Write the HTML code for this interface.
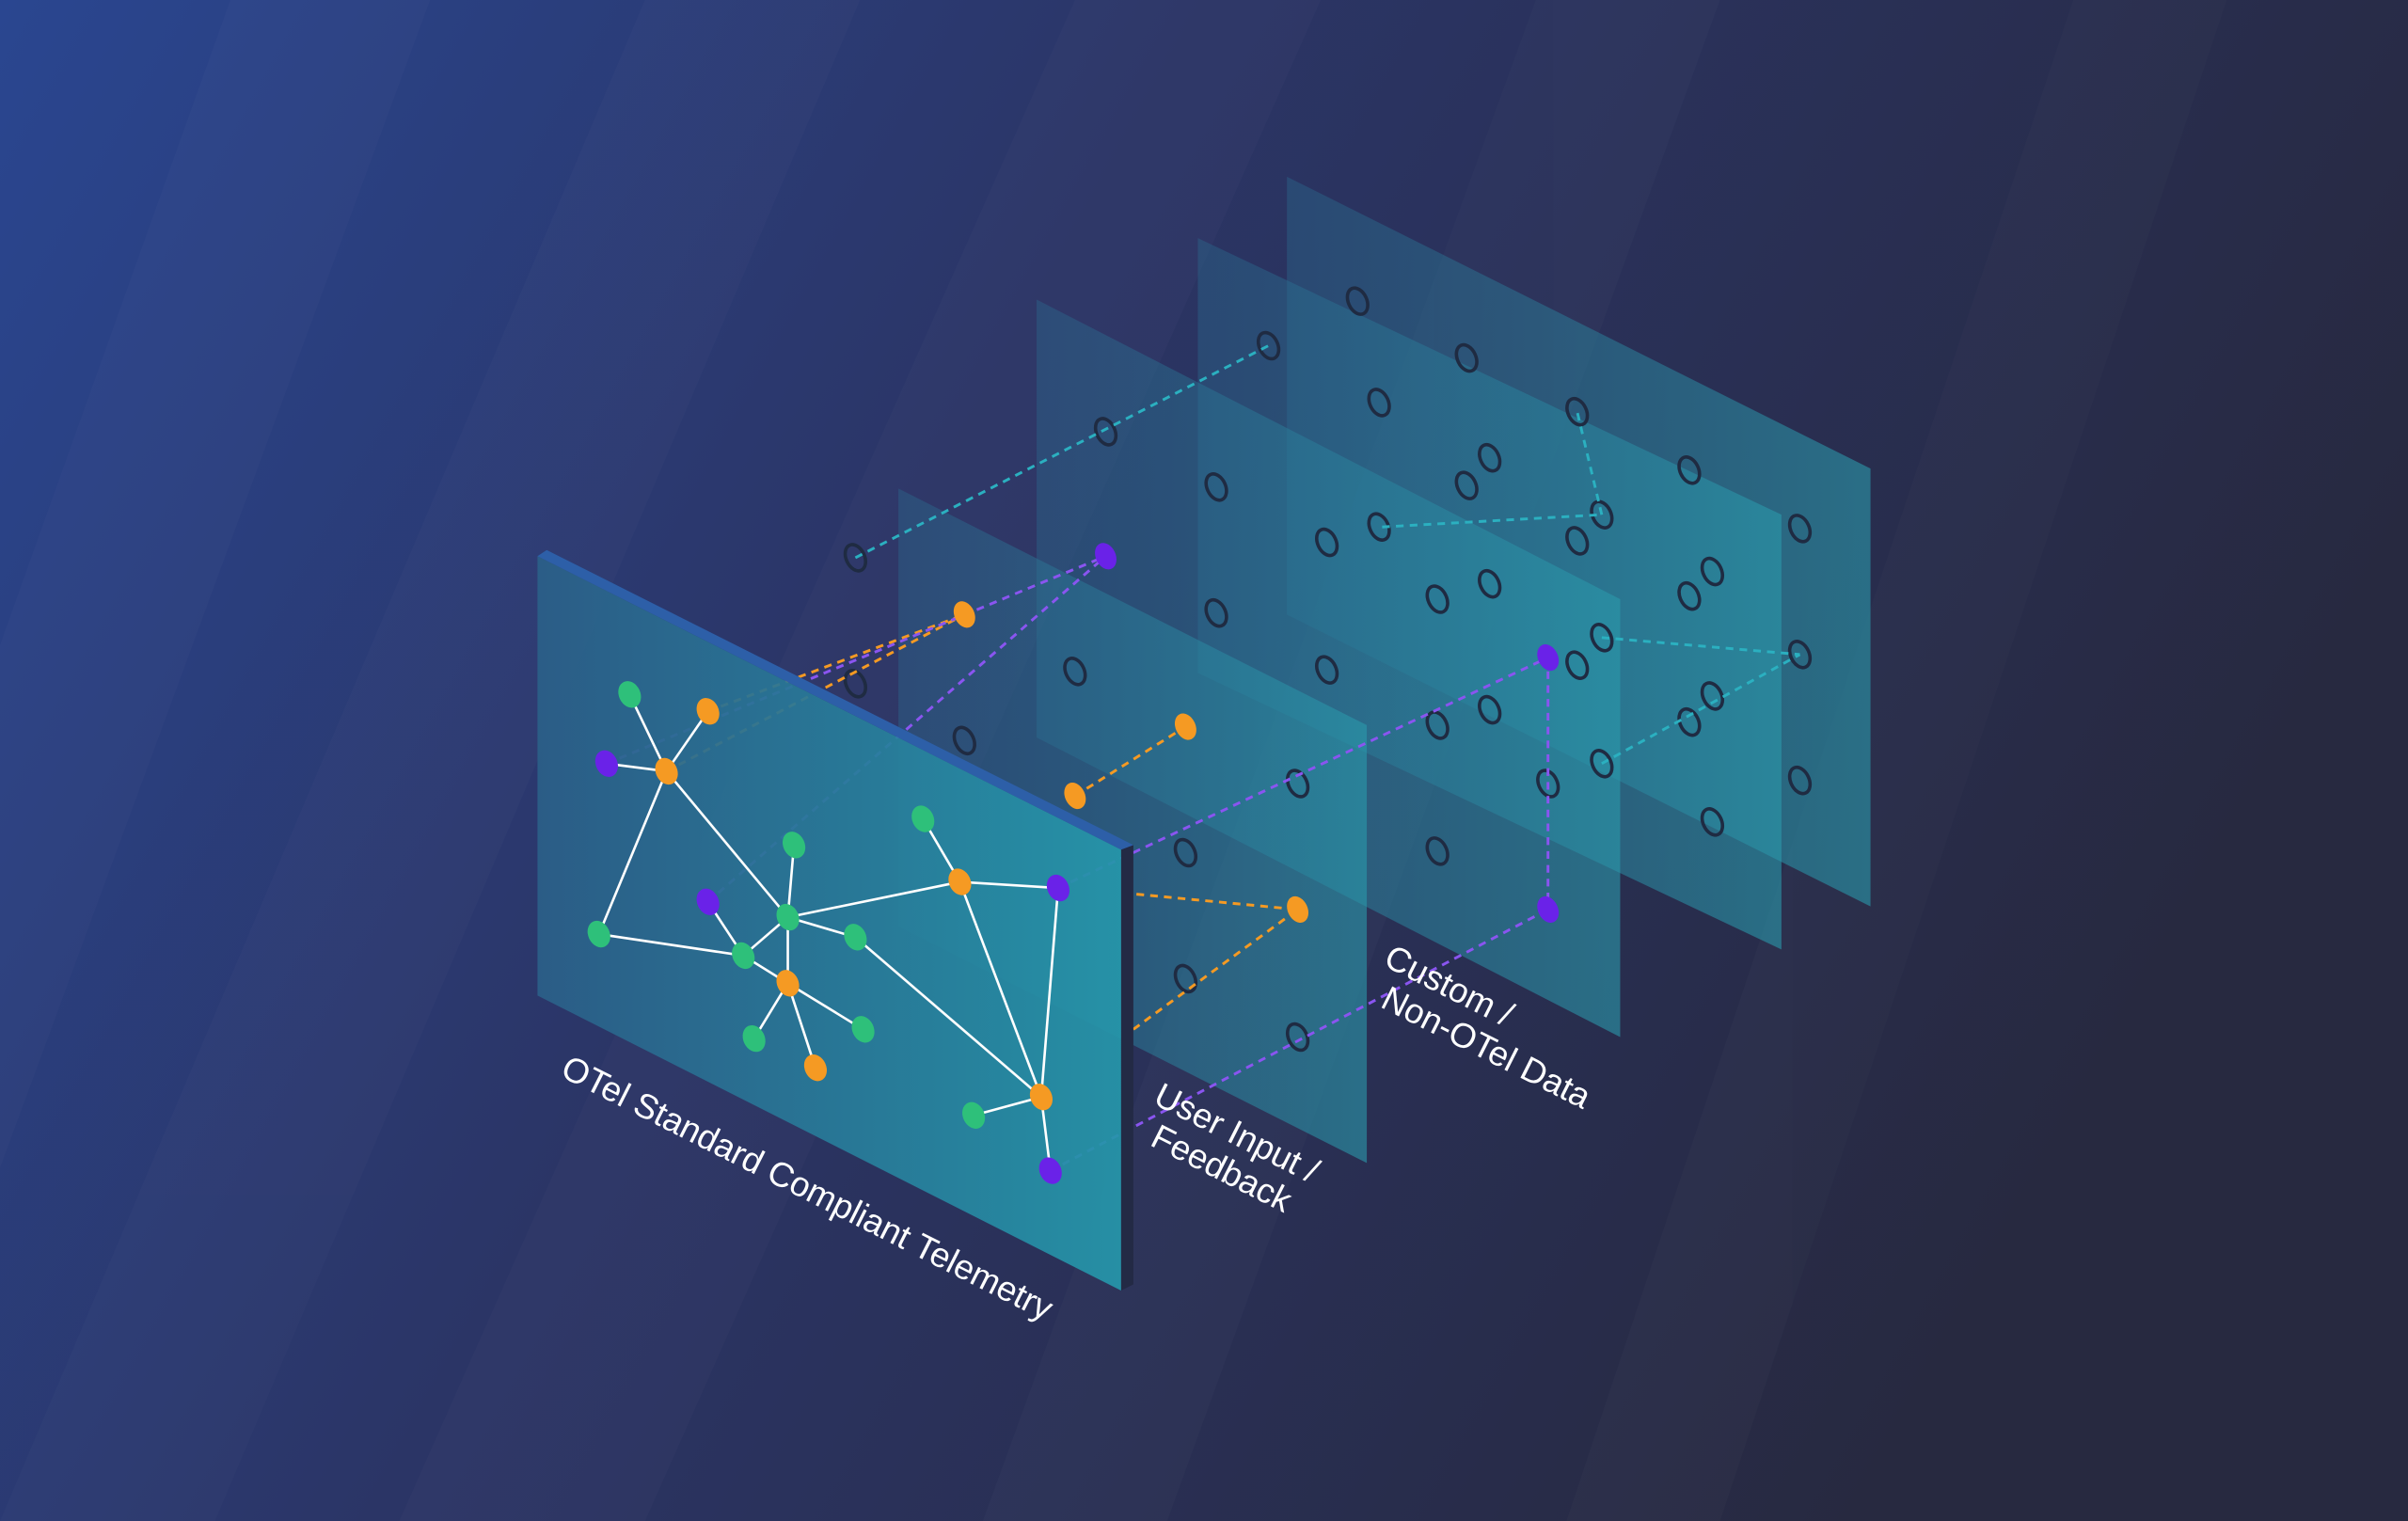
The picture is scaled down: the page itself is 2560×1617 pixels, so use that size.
<!DOCTYPE html>
<html><head><meta charset="utf-8"><style>
html,body{margin:0;padding:0;width:2560px;height:1617px;overflow:hidden;background:#282b48}
svg{display:block}
text{font-family:"Liberation Sans",sans-serif;fill:#fff}
</style></head><body>
<svg width="2560" height="1617" viewBox="0 0 1568 990" preserveAspectRatio="none" xmlns="http://www.w3.org/2000/svg">
<defs>
<linearGradient id="bg" x1="0" y1="0" x2="1" y2="0.35">
<stop offset="0" stop-color="#2a4690"/><stop offset="0.45" stop-color="#2b3566"/><stop offset="1" stop-color="#272940"/>
</linearGradient>
<linearGradient id="fp" x1="0" y1="0" x2="1" y2="0">
<stop offset="0" stop-color="#2b5f88"/><stop offset="1" stop-color="#2596aa"/>
</linearGradient>
<linearGradient id="bp" x1="0" y1="0" x2="1" y2="0">
<stop offset="0" stop-color="#2a6a8e" stop-opacity="0.4"/><stop offset="1" stop-color="#2a9aac" stop-opacity="0.6"/>
</linearGradient>
</defs>
<rect width="1568" height="990" fill="url(#bg)"/>
<g fill="#ffffff" opacity="0.015">
<polygon points="150,0 280,0 0,760 0,420"/>
<polygon points="420,0 560,0 140,990 0,990"/>
<polygon points="700,0 860,0 420,990 260,990"/>
<polygon points="1000,0 1120,0 760,990 640,990"/>
<polygon points="1350,0 1450,0 1120,990 1020,990"/>
</g>
<polygon points="838,115 1218,305 1218,590 838,400" fill="url(#bp)"/>
<polygon points="780,155 1160,335 1160,618 780,438" fill="url(#bp)"/>
<polygon points="675,195 1055,390 1055,675 675,480" fill="url(#bp)"/>
<polygon points="585,318 890,472 890,757 585,603" fill="url(#bp)"/>
<g fill="none" stroke="#1f2b42" stroke-width="2.2">
<ellipse cx="557" cy="363" rx="6" ry="9" transform="rotate(-25 557 363)"/>
<ellipse cx="720" cy="281" rx="6" ry="9" transform="rotate(-25 720 281)"/>
<ellipse cx="826" cy="225" rx="6" ry="9" transform="rotate(-25 826 225)"/>
<ellipse cx="884" cy="196" rx="6" ry="9" transform="rotate(-25 884 196)"/>
<ellipse cx="557" cy="445" rx="6" ry="9" transform="rotate(-25 557 445)"/>
<ellipse cx="628" cy="482" rx="6" ry="9" transform="rotate(-25 628 482)"/>
<ellipse cx="700" cy="437" rx="6" ry="9" transform="rotate(-25 700 437)"/>
<ellipse cx="792" cy="317" rx="6" ry="9" transform="rotate(-25 792 317)"/>
<ellipse cx="864" cy="353" rx="6" ry="9" transform="rotate(-25 864 353)"/>
<ellipse cx="792" cy="399" rx="6" ry="9" transform="rotate(-25 792 399)"/>
<ellipse cx="864" cy="436" rx="6" ry="9" transform="rotate(-25 864 436)"/>
<ellipse cx="898" cy="262" rx="6" ry="9" transform="rotate(-25 898 262)"/>
<ellipse cx="955" cy="233" rx="6" ry="9" transform="rotate(-25 955 233)"/>
<ellipse cx="970" cy="298" rx="6" ry="9" transform="rotate(-25 970 298)"/>
<ellipse cx="955" cy="316" rx="6" ry="9" transform="rotate(-25 955 316)"/>
<ellipse cx="898" cy="343" rx="6" ry="9" transform="rotate(-25 898 343)"/>
<ellipse cx="936" cy="390" rx="6" ry="9" transform="rotate(-25 936 390)"/>
<ellipse cx="970" cy="380" rx="6" ry="9" transform="rotate(-25 970 380)"/>
<ellipse cx="936" cy="472" rx="6" ry="9" transform="rotate(-25 936 472)"/>
<ellipse cx="970" cy="462" rx="6" ry="9" transform="rotate(-25 970 462)"/>
<ellipse cx="936" cy="554" rx="6" ry="9" transform="rotate(-25 936 554)"/>
<ellipse cx="1008" cy="510" rx="6" ry="9" transform="rotate(-25 1008 510)"/>
<ellipse cx="1027" cy="268" rx="6" ry="9" transform="rotate(-25 1027 268)"/>
<ellipse cx="1043" cy="335" rx="6" ry="9" transform="rotate(-25 1043 335)"/>
<ellipse cx="1027" cy="352" rx="6" ry="9" transform="rotate(-25 1027 352)"/>
<ellipse cx="1043" cy="415" rx="6" ry="9" transform="rotate(-25 1043 415)"/>
<ellipse cx="1027" cy="433" rx="6" ry="9" transform="rotate(-25 1027 433)"/>
<ellipse cx="1043" cy="497" rx="6" ry="9" transform="rotate(-25 1043 497)"/>
<ellipse cx="1100" cy="306" rx="6" ry="9" transform="rotate(-25 1100 306)"/>
<ellipse cx="1115" cy="372" rx="6" ry="9" transform="rotate(-25 1115 372)"/>
<ellipse cx="1100" cy="388" rx="6" ry="9" transform="rotate(-25 1100 388)"/>
<ellipse cx="1115" cy="453" rx="6" ry="9" transform="rotate(-25 1115 453)"/>
<ellipse cx="1100" cy="470" rx="6" ry="9" transform="rotate(-25 1100 470)"/>
<ellipse cx="1115" cy="535" rx="6" ry="9" transform="rotate(-25 1115 535)"/>
<ellipse cx="1172" cy="344" rx="6" ry="9" transform="rotate(-25 1172 344)"/>
<ellipse cx="1172" cy="426" rx="6" ry="9" transform="rotate(-25 1172 426)"/>
<ellipse cx="1172" cy="508" rx="6" ry="9" transform="rotate(-25 1172 508)"/>
<ellipse cx="845" cy="510" rx="6" ry="9" transform="rotate(-25 845 510)"/>
<ellipse cx="772" cy="555" rx="6" ry="9" transform="rotate(-25 772 555)"/>
<ellipse cx="772" cy="637" rx="6" ry="9" transform="rotate(-25 772 637)"/>
<ellipse cx="845" cy="675" rx="6" ry="9" transform="rotate(-25 845 675)"/>
</g>
<g fill="none" stroke-width="1.8" stroke-dasharray="5,4">
<g stroke="#2bb0c0">
<line x1="557" y1="363" x2="826" y2="225"/>
<line x1="1043" y1="335" x2="1027" y2="268"/>
<line x1="900" y1="343" x2="1043" y2="335"/>
<line x1="1043" y1="415" x2="1172" y2="426"/>
<line x1="1043" y1="497" x2="1172" y2="426"/>
</g>
<g stroke="#f59a23">
<line x1="461" y1="463" x2="628" y2="400"/>
<line x1="434" y1="502" x2="628" y2="400"/>
<line x1="700" y1="518" x2="772" y2="473"/>
<line x1="740" y1="582" x2="845" y2="592"/>
<line x1="738" y1="670" x2="845" y2="592"/>
</g>
<g stroke="#8a55f0">
<line x1="395" y1="497" x2="720" y2="362"/>
<line x1="461" y1="587" x2="720" y2="362"/>
<line x1="689" y1="578" x2="1008" y2="428"/>
<line x1="684" y1="762" x2="1008" y2="592"/>
<line x1="1008" y1="428" x2="1008" y2="592"/>
</g>
</g>
<ellipse cx="628" cy="400" rx="6.5" ry="9" transform="rotate(-25 628 400)" fill="#f59a23"/>
<ellipse cx="772" cy="473" rx="6.5" ry="9" transform="rotate(-25 772 473)" fill="#f59a23"/>
<ellipse cx="700" cy="518" rx="6.5" ry="9" transform="rotate(-25 700 518)" fill="#f59a23"/>
<ellipse cx="845" cy="592" rx="6.5" ry="9" transform="rotate(-25 845 592)" fill="#f59a23"/>
<ellipse cx="720" cy="362" rx="6.5" ry="9" transform="rotate(-25 720 362)" fill="#6a22e8"/>
<ellipse cx="1008" cy="428" rx="6.5" ry="9" transform="rotate(-25 1008 428)" fill="#6a22e8"/>
<ellipse cx="1008" cy="592" rx="6.5" ry="9" transform="rotate(-25 1008 592)" fill="#6a22e8"/>
<polygon points="730,553 738,550 738,836 730,840" fill="#232a45"/>
<polygon points="350,362 730,553 730,840 350,648" fill="url(#fp)" opacity="0.93"/>
<polygon points="350,362 356,358 738,550 730,553" fill="#2d5fa8"/>
<g stroke="#ffffff" stroke-width="1.6" fill="none">
<line x1="434" y1="502" x2="410" y2="452"/><line x1="434" y1="502" x2="461" y2="463"/>
<line x1="434" y1="502" x2="395" y2="497"/><line x1="434" y1="502" x2="390" y2="608"/>
<line x1="434" y1="502" x2="513" y2="597"/><line x1="390" y1="608" x2="484" y2="622"/>
<line x1="484" y1="622" x2="461" y2="587"/><line x1="484" y1="622" x2="513" y2="640"/>
<line x1="484" y1="622" x2="513" y2="597"/>
<line x1="513" y1="597" x2="517" y2="550"/><line x1="513" y1="597" x2="625" y2="574"/>
<line x1="513" y1="597" x2="557" y2="610"/><line x1="513" y1="597" x2="513" y2="640"/>
<line x1="513" y1="640" x2="491" y2="676"/><line x1="513" y1="640" x2="531" y2="695"/>
<line x1="513" y1="640" x2="562" y2="670"/>
<line x1="625" y1="574" x2="601" y2="533"/><line x1="625" y1="574" x2="689" y2="578"/>
<line x1="625" y1="574" x2="678" y2="714"/><line x1="689" y1="578" x2="678" y2="714"/>
<line x1="557" y1="610" x2="678" y2="714"/><line x1="678" y1="714" x2="634" y2="726"/>
<line x1="678" y1="714" x2="684" y2="762"/>
</g>
<g fill="#f59a23">
<ellipse cx="434" cy="502" rx="7" ry="9" transform="rotate(-25 434 502)"/>
<ellipse cx="461" cy="463" rx="7" ry="9" transform="rotate(-25 461 463)"/>
<ellipse cx="625" cy="574" rx="7" ry="9" transform="rotate(-25 625 574)"/>
<ellipse cx="513" cy="640" rx="7" ry="9" transform="rotate(-25 513 640)"/>
<ellipse cx="531" cy="695" rx="7" ry="9" transform="rotate(-25 531 695)"/>
<ellipse cx="678" cy="714" rx="7" ry="9" transform="rotate(-25 678 714)"/>
</g>
<g fill="#2ec07a">
<ellipse cx="410" cy="452" rx="7" ry="9" transform="rotate(-25 410 452)"/>
<ellipse cx="390" cy="608" rx="7" ry="9" transform="rotate(-25 390 608)"/>
<ellipse cx="517" cy="550" rx="7" ry="9" transform="rotate(-25 517 550)"/>
<ellipse cx="601" cy="533" rx="7" ry="9" transform="rotate(-25 601 533)"/>
<ellipse cx="513" cy="597" rx="7" ry="9" transform="rotate(-25 513 597)"/>
<ellipse cx="484" cy="622" rx="7" ry="9" transform="rotate(-25 484 622)"/>
<ellipse cx="557" cy="610" rx="7" ry="9" transform="rotate(-25 557 610)"/>
<ellipse cx="491" cy="676" rx="7" ry="9" transform="rotate(-25 491 676)"/>
<ellipse cx="562" cy="670" rx="7" ry="9" transform="rotate(-25 562 670)"/>
<ellipse cx="634" cy="726" rx="7" ry="9" transform="rotate(-25 634 726)"/>
</g>
<g fill="#6a22e8">
<ellipse cx="395" cy="497" rx="7" ry="9" transform="rotate(-25 395 497)"/>
<ellipse cx="461" cy="587" rx="7" ry="9" transform="rotate(-25 461 587)"/>
<ellipse cx="689" cy="578" rx="7" ry="9" transform="rotate(-25 689 578)"/>
<ellipse cx="684" cy="762" rx="7" ry="9" transform="rotate(-25 684 762)"/>
</g>
<g font-size="22.5">
<text transform="translate(364,700) rotate(26.8)">OTel Standard Compliant Telemetry</text>
<text transform="translate(750,718) rotate(26.8)">User Input /</text>
<text transform="translate(748,745) rotate(26.8)">Feedback</text>
<text transform="translate(900,628) rotate(26.8)">Custom /</text>
<text transform="translate(898,655) rotate(26.8)">Non-OTel Data</text>
</g>
</svg>
</body></html>
